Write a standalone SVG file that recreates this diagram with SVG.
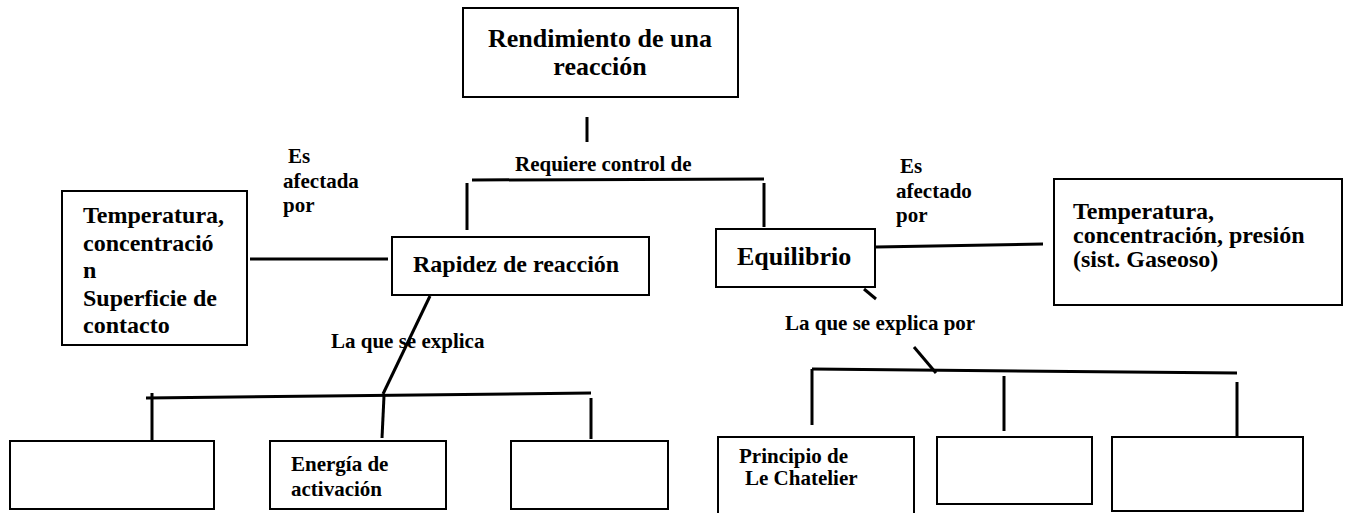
<svg xmlns="http://www.w3.org/2000/svg" width="1347" height="513" viewBox="0 0 1347 513">
<style>
.box{fill:#fff;stroke:#000;stroke-width:2}
.ln{stroke:#000;stroke-width:3;fill:none;stroke-linecap:butt}
text{font-family:"Liberation Serif","Times New Roman",serif;font-weight:bold;fill:#000}
.big{font-size:26px}
.mid{font-size:24px}
.sm{font-size:21px}
</style>
<rect width="1347" height="513" fill="#fff"/>
<g id="connectors">
<line class="ln" x1="587" y1="117" x2="587" y2="142"/>
<line class="ln" x1="472" y1="180" x2="764" y2="179"/>
<line class="ln" x1="467" y1="183" x2="467" y2="230"/>
<line class="ln" x1="764" y1="183" x2="764" y2="227"/>
<line class="ln" x1="250" y1="259" x2="388" y2="259"/>
<line class="ln" x1="430" y1="296" x2="383" y2="394"/>
<line class="ln" x1="146" y1="398" x2="591" y2="393"/>
<line class="ln" x1="152" y1="393" x2="152" y2="440"/>
<line class="ln" x1="384" y1="396" x2="382" y2="438"/>
<line class="ln" x1="591" y1="398" x2="591" y2="439"/>
<line class="ln" x1="876" y1="247" x2="1043" y2="244"/>
<line class="ln" x1="864" y1="289" x2="876" y2="299"/>
<line class="ln" x1="914" y1="347" x2="936" y2="373"/>
<line class="ln" x1="812" y1="369" x2="1237" y2="373"/>
<line class="ln" x1="812" y1="369" x2="812" y2="425"/>
<line class="ln" x1="1004" y1="376" x2="1004" y2="431"/>
<line class="ln" x1="1237" y1="382" x2="1237" y2="437"/>
</g>
<g id="labels">
<text class="sm" x="515" y="171">Requiere control de</text>
<text class="sm" x="288" y="163">Es</text>
<text class="sm" x="283" y="188">afectada</text>
<text class="sm" x="283" y="212">por</text>
<text class="sm" x="900" y="173">Es</text>
<text class="sm" x="896" y="198">afectado</text>
<text class="sm" x="896" y="222">por</text>
<text class="sm" x="331" y="348">La que se explica</text>
<text class="sm" x="785" y="330">La que se explica por</text>
</g>
<g id="n-rendimiento">
<rect class="box" x="463" y="8" width="275" height="89"/>
<text class="big" x="600" y="47" text-anchor="middle">Rendimiento de una</text>
<text class="big" x="600" y="75" text-anchor="middle">reacción</text>
</g>
<g id="n-factores-rapidez">
<rect class="box" x="62" y="191" width="185" height="154"/>
<text class="mid" x="83" y="223">Temperatura,</text>
<text class="mid" x="83" y="250.5">concentració</text>
<text class="mid" x="83" y="278">n</text>
<text class="mid" x="83" y="305.5">Superficie de</text>
<text class="mid" x="83" y="333">contacto</text>
</g>
<g id="n-rapidez">
<rect class="box" x="392" y="237" width="257" height="58"/>
<text class="mid" x="413" y="272" font-size="25">Rapidez de reacción</text>
</g>
<g id="n-equilibrio">
<rect class="box" x="716" y="229" width="159" height="58"/>
<text class="mid" x="737" y="265" style="font-size:26px">Equilibrio</text>
</g>
<g id="n-factores-equilibrio">
<rect class="box" x="1054" y="179" width="288" height="126"/>
<text class="mid" x="1073" y="219">Temperatura,</text>
<text class="mid" x="1073" y="243">concentración, presión</text>
<text class="mid" x="1073" y="267">(sist. Gaseoso)</text>
</g>
<g id="n-rap-1">
<rect class="box" x="10" y="441" width="204" height="68"/>
</g>
<g id="n-energia">
<rect class="box" x="270" y="441" width="176" height="68"/>
<text class="sm" x="291" y="471">Energía de</text>
<text class="sm" x="291" y="496">activación</text>
</g>
<g id="n-rap-3">
<rect class="box" x="511" y="441" width="157" height="68"/>
</g>
<g id="n-chatelier">
<rect class="box" x="718" y="437" width="196" height="80"/>
<text class="sm" x="739" y="463">Principio de</text>
<text class="sm" x="745" y="485">Le Chatelier</text>
</g>
<g id="n-eq-2">
<rect class="box" x="937" y="437" width="155" height="67"/>
</g>
<g id="n-eq-3">
<rect class="box" x="1112" y="437" width="191" height="74"/>
</g>
</svg>
